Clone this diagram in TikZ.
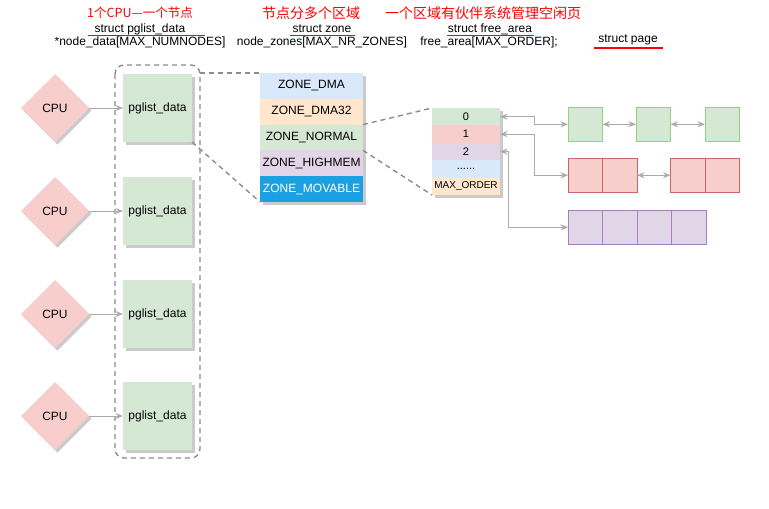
\documentclass[tikz,border=0pt]{standalone}
\usepackage{fontspec}
\setmainfont{Liberation Sans}
\newfontfamily\cjk{Noto Sans CJK SC}
\usetikzlibrary{shapes.geometric,arrows.meta,shadows,calc}

\definecolor{cpufill}{HTML}{F8CECC}
\definecolor{greenfill}{HTML}{D5E8D4}
\definecolor{greenline}{HTML}{97D077}
\definecolor{redfill}{HTML}{F8CECC}
\definecolor{redline}{HTML}{CC6666}
\definecolor{purplefill}{HTML}{E1D5E7}
\definecolor{purpleline}{HTML}{A680B8}
\definecolor{bluefill}{HTML}{DAE8FC}
\definecolor{orangefill}{HTML}{FFE6CC}
\definecolor{movable}{HTML}{1BA1E2}
\definecolor{linkgray}{HTML}{ABABAB}
\definecolor{dashgray}{HTML}{8C8C8C}

\tikzset{
  base/.style={inner sep=0pt, outer sep=0pt, font=\fontsize{12}{14}\selectfont},
  softshadow/.style={drop shadow={shadow xshift=2.5pt, shadow yshift=-2.5pt, fill=black!45, opacity=.45}},
  cpu/.style={base, diamond, aspect=1, minimum width=68pt, minimum height=68pt, fill=cpufill, softshadow},
  pgbox/.style={base, rectangle, minimum width=69pt, minimum height=68pt, fill=greenfill, softshadow},
  zrow/.style={base, rectangle, anchor=north west, minimum width=103pt, minimum height=25.8pt},
  frow/.style={base, rectangle, anchor=north west, minimum width=68pt, minimum height=17.4pt, font=\fontsize{11}{13}\selectfont},
  pagebox/.style={base, rectangle, anchor=north west, minimum width=34.5pt, minimum height=34.5pt, line width=0.9pt},
  link/.style={draw=linkgray, line width=1pt},
  tip/.style={-{Stealth[length=7.5pt,width=6pt,inset=2.5pt]}},
  bitip/.style={{Stealth[length=7.5pt,width=6pt,inset=2.5pt]}-{Stealth[length=7.5pt,width=6pt,inset=2.5pt]}},
  zoomline/.style={draw=dashgray, line width=1.4pt, dash pattern=on 5pt off 4pt},
  title/.style={inner sep=0pt, text=red, font=\cjk\fontsize{14}{16}\selectfont},
  label/.style={inner sep=0pt, font=\fontsize{12}{14}\selectfont},
  underline/.style={draw=red, line width=1.8pt}
}

\begin{document}
\begin{tikzpicture}[x=1pt,y=-1pt]
\useasboundingbox[fill=white] (0,0) rectangle (769,509);

% ---- headings ----
\node[title, font=\cjk\fontsize{12.5}{15}\selectfont] (h1) at (140,13) {1个CPU—一个节点};
\node[label] (s1) at (140,29) {struct pglist\_data};
\node[label] (v1) at (140,42.5) {*node\_data[MAX\_NUMNODES]};
\coordinate (u1a) at (88,35.5);
\coordinate (u1b) at (205,35.5);
\draw[underline] (u1a) -- (u1b);

\node[title] (h2) at (311,13) {节点分多个区域};
\node[label] (s2) at (322,29) {struct zone};
\node[label] (v2) at (322,42.5) {node\_zones[MAX\_NR\_ZONES]};
\coordinate (u2a) at (290,35.5);
\coordinate (u2b) at (355,35.5);
\draw[underline] (u2a) -- (u2b);

\node[title] (h3) at (483,13) {一个区域有伙伴系统管理空闲页};
\node[label] (s3) at (490,29) {struct free\_area};
\node[label] (v3) at (489,42.5) {free\_area[MAX\_ORDER];};
\coordinate (u3a) at (447,35.5);
\coordinate (u3b) at (534,35.5);
\draw[underline] (u3a) -- (u3b);

\node[label] (s4) at (628,40) {struct page};
\coordinate (u4a) at (594,48);
\coordinate (u4b) at (663,48);
\draw[underline] (u4a) -- (u4b);

% ---- node group ----
\draw[zoomline, rounded corners=9pt] (115,65) coordinate (grpnw) rectangle (200,458) coordinate (grpse);

\foreach \i/\y in {1/108,2/211,3/314,4/416}{
  \node[cpu] (cpu\i) at (55,\y) {CPU};
  \node[pgbox] (pg\i) at (157.5,\y) {pglist\_data};
  \draw[link,tip] (cpu\i) -- (pg\i);
}

% ---- zones ----
\node[base, anchor=north west, minimum width=103pt, minimum height=129pt, fill=white, softshadow] (zones) at (260,73) {};
\node[zrow, fill=bluefill] (zdma) at (260,73) {ZONE\_DMA};
\node[zrow, fill=orangefill] (zdma32) at (zdma.south west) {ZONE\_DMA32};
\node[zrow, fill=greenfill] (znormal) at (zdma32.south west) {ZONE\_NORMAL};
\node[zrow, fill=purplefill] (zhigh) at (znormal.south west) {ZONE\_HIGHMEM};
\node[zrow, fill=movable, text=white] (zmov) at (zhigh.south west) {ZONE\_MOVABLE};

\draw[zoomline] (zdma.north west -| grpse) -- (zdma.north west);
\draw[zoomline] (pg1.south east) -- (zmov.south west);

% ---- free areas ----
\node[base, anchor=north west, minimum width=68pt, minimum height=87pt, fill=white, softshadow] (areas) at (432,108) {};
\node[frow, fill=greenfill] (fa0) at (432,108) {0};
\node[frow, fill=redfill] (fa1) at (fa0.south west) {1};
\node[frow, fill=purplefill] (fa2) at (fa1.south west) {2};
\node[frow, fill=bluefill] (fa3) at (fa2.south west) {......};
\node[frow, fill=orangefill, font=\fontsize{10}{12}\selectfont] (famax) at (fa3.south west) {MAX\_ORDER};

\draw[zoomline] (znormal.north east) -- (fa0.north west);
\draw[zoomline] (znormal.south east) -- (famax.south west);

% ---- pages ----
\node[pagebox, fill=greenfill, draw=greenline] (g1) at (568,107) {};
\node[pagebox, fill=greenfill, draw=greenline] (g2) at (636,107) {};
\node[pagebox, fill=greenfill, draw=greenline] (g3) at (705,107) {};

\node[pagebox, fill=redfill, draw=redline] (r1) at (568,158) {};
\node[pagebox, fill=redfill, draw=redline] (r2) at (r1.north east) {};
\node[pagebox, fill=redfill, draw=redline] (r3) at (670.5,158) {};
\node[pagebox, fill=redfill, draw=redline] (r4) at (r3.north east) {};

\node[pagebox, fill=purplefill, draw=purpleline] (p1) at (568,210) {};
\node[pagebox, fill=purplefill, draw=purpleline] (p2) at (p1.north east) {};
\node[pagebox, fill=purplefill, draw=purpleline] (p3) at (p2.north east) {};
\node[pagebox, fill=purplefill, draw=purpleline] (p4) at (p3.north east) {};

% ---- free lists ----
\draw[link,bitip] (fa0.east) -- ++(34,0) |- (g1.west);
\draw[link,bitip] (fa1.east) -- ++(34,0) |- (r1.west);
\draw[link,bitip] (fa2.east) -- ++(8,0) |- (p1.west);
\draw[link,bitip] (g1.east) -- (g2.west);
\draw[link,bitip] (g2.east) -- (g3.west);
\draw[link,bitip] (r2.east) -- (r3.west);
\end{tikzpicture}
\end{document}
